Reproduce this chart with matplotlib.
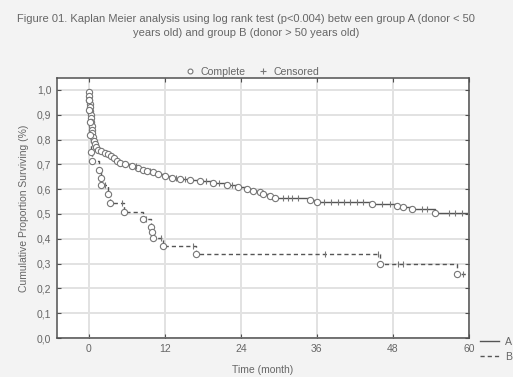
import numpy as np
import matplotlib
matplotlib.use("Agg")
import matplotlib.pyplot as plt
from matplotlib.lines import Line2D

plt.rcParams['font.family'] = ['Liberation Sans', 'DejaVu Sans']

# ---- data ----
a_times = [0.0, 0.05, 0.1, 0.15, 0.2, 0.25, 0.3, 0.35, 0.4, 0.45, 0.5, 0.6, 0.7, 0.85,
           1.0, 1.2, 1.5, 2.0, 2.5, 3.0, 3.5, 4.0, 4.5, 5.0, 5.7, 6.9, 7.8, 8.5, 9.2,
           10.1, 11.0, 12.0, 13.2, 14.4, 16.0, 17.5, 19.6, 21.8, 23.5, 24.9, 26.0,
           27.0, 27.5, 28.6, 29.4, 34.9, 36.0, 44.7, 48.6, 49.6, 51.0, 54.6]
a_surv = [0.99, 0.975, 0.96, 0.945, 0.93, 0.915, 0.90, 0.885, 0.87, 0.855, 0.84, 0.825,
          0.81, 0.795, 0.78, 0.768, 0.758, 0.752, 0.746, 0.74, 0.732, 0.724, 0.715,
          0.707, 0.70, 0.692, 0.684, 0.676, 0.672, 0.668, 0.66, 0.652, 0.646, 0.64,
          0.636, 0.632, 0.626, 0.618, 0.61, 0.60, 0.594, 0.588, 0.58, 0.573, 0.565,
          0.556, 0.548, 0.54, 0.532, 0.527, 0.52, 0.505]
a_censored = [7.4, 9.6, 13.8, 15.2, 18.5, 20.6, 22.6, 30.6, 31.4, 32.1, 33.0, 37.2, 38.3,
              39.3, 40.3, 41.3, 42.3, 43.3, 46.3, 47.5, 52.6, 53.3, 56.9, 57.8, 58.9, 59.8]

b_times = [0.05, 0.1, 0.15, 0.25, 0.4, 0.55, 1.6, 1.9, 2.0, 3.0, 3.3, 5.5, 8.6, 9.8,
           10.0, 10.2, 11.8, 16.9, 46.0, 58.1]
b_surv = [0.96, 0.92, 0.87, 0.82, 0.75, 0.714, 0.677, 0.645, 0.615, 0.58, 0.543, 0.507,
          0.478, 0.448, 0.428, 0.403, 0.371, 0.338, 0.298, 0.258]
b_censored = [2.5, 5.3, 9.1, 11.4, 16.4, 37.3, 45.6, 48.8, 49.6, 59.0]

x_ticks = [0, 12, 24, 36, 48, 60]
y_ticks = [0.0, 0.1, 0.2, 0.3, 0.4, 0.5, 0.6, 0.7, 0.8, 0.9, 1.0]
y_ticklabels = ['0,0', '0,1', '0,2', '0,3', '0,4', '0,5', '0,6', '0,7', '0,8', '0,9', '1,0']
t_max = 60

title = ("Figure 01. Kaplan Meier analysis using log rank test (p<0.004) betw een group A (donor < 50\n"
         "years old) and group B (donor > 50 years old)")

# ---- figure ----
fig = plt.figure(figsize=(5.13, 3.77), dpi=100, facecolor='#f3f3f3')
ax = fig.add_axes([57/513, 1-338/377, (469-57)/513, (338-78)/377])
ax.set_facecolor('white')

line_col = '#555555'
mk_col = '#777777'
txt_col = '#666666'

def km(ax, times, surv, cens, ls):
    t = np.asarray(times); s = np.asarray(surv)
    xs = np.r_[0.0, t, t_max]
    ys = np.r_[1.0, s, s[-1]]
    ax.step(xs, ys, where='post', color=line_col, lw=1.0, ls=ls, zorder=3)
    ax.plot(t, s, ls='none', marker='o', ms=4.5, mfc='white', mec=mk_col, mew=0.8, zorder=4)
    c = np.asarray(cens)
    idx = np.searchsorted(xs, c, side='right') - 1
    ax.plot(c, ys[idx], ls='none', marker='|', ms=4, mec=mk_col, mew=0.8, zorder=4)

km(ax, a_times, a_surv, a_censored, '-')
km(ax, b_times, b_surv, b_censored, (0, (3, 2.2)))

ax.set_xlim(-5, 60)
ax.set_ylim(0, 1.048)
ax.set_xticks(x_ticks)
ax.set_yticks(y_ticks)
ax.set_yticklabels(y_ticklabels)
ax.grid(True, color='#e2e2e2', lw=1.4, zorder=0)
ax.set_axisbelow(True)
for sp in ax.spines.values():
    sp.set_color('#505050'); sp.set_linewidth(1.1)
ax.tick_params(direction='in', length=3, width=0.8, color='#505050',
               top=True, right=True, labelsize=7.5, labelcolor=txt_col, pad=4)
ax.set_xlabel('Time (month)', fontsize=7.5, color=txt_col, labelpad=8)
ax.set_ylabel('Cumulative Proportion Surviving (%)', fontsize=7.5, color=txt_col, labelpad=6)

fig.text(246/513, 1-26.5/377, title, ha='center', va='center', fontsize=8.0,
         color=txt_col, linespacing=1.5)

h1 = Line2D([], [], ls='none', marker='o', ms=3.5, mfc='white', mec=mk_col, mew=0.8)
h2 = Line2D([], [], ls='none', marker='+', ms=4.5, mec=mk_col, mew=0.8)
fig.legend([h1, h2], ['Complete', 'Censored'], loc='center', ncol=2,
           bbox_to_anchor=(252/513, 1-72/377), frameon=False, fontsize=7.6,
           labelcolor=txt_col, handlelength=1.0, handletextpad=0.5, columnspacing=1.2)

hA = Line2D([], [], color=line_col, lw=1.0, ls='-')
hB = Line2D([], [], color=line_col, lw=1.0, ls=(0, (3, 2.2)))
fig.legend([hA, hB], ['A', 'B'], loc='center left',
           bbox_to_anchor=(480/513, 1-349.5/377), frameon=False, fontsize=7.6,
           labelcolor=txt_col, handlelength=1.8, handletextpad=0.6, labelspacing=0.45,
           borderaxespad=0, borderpad=0)

fig.savefig('out.png', dpi=100, facecolor=fig.get_facecolor())
